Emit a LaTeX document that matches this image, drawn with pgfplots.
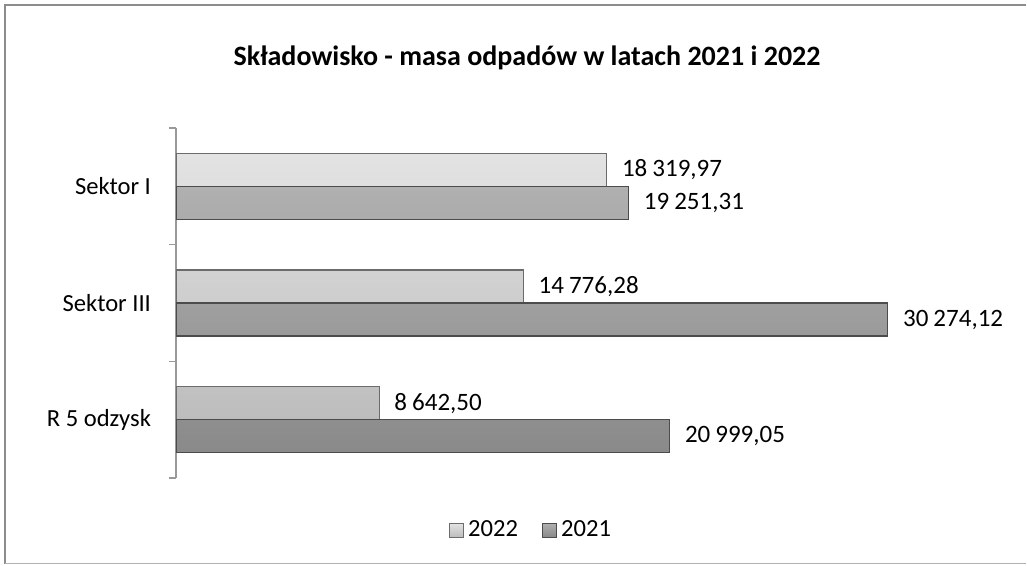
\documentclass[border=0pt]{standalone}
\usepackage{pgfplots}
\pgfplotsset{compat=1.18}
\usepackage{fontspec}
\setmainfont{Carlito}
\definecolor{frame}{gray}{0.55}
\definecolor{axisgray}{gray}{0.6}
\begin{document}
\begin{tikzpicture}
\path (0,0) rectangle (513.5pt,283pt);
\draw[frame, line width=0.8pt] (2.5pt,1.2pt) -- (2.5pt,280.5pt) -- (513pt,280.5pt);
\draw[gray!60, line width=0.5pt] (2.5pt,1.2pt) -- (513pt,1.2pt);
\node[font=\bfseries\fontsize{14}{16}\selectfont] at (263.5pt,254pt) {Składowisko - masa odpadów w latach 2021 i 2022};
\begin{axis}[
  at={(88pt,44pt)}, anchor=south west,
  scale only axis, width=411.5pt, height=175pt,
  xbar, xmin=0, xmax=35000,
  ymin=0.5, ymax=3.5,
  axis x line=none, axis y line*=left,
  y axis line style={axisgray, line width=0.6pt},
  ytick={1,2,3},
  yticklabels={R 5 odzysk, Sektor III, Sektor I},
  major tick length=0pt,
  yticklabel style={font=\fontsize{12.3}{14}\selectfont, xshift=-9pt},
  extra y ticks={0.5,1.5,2.5,3.5},
  extra y tick labels={},
  extra y tick style={major tick length=3.5pt, tick align=outside, tick style={axisgray, line width=0.6pt}},
  bar width=16.5pt,
  /pgf/number format/assume math mode=true,
  nodes near coords,
  nodes near coords align={horizontal},
  every node near coord/.append style={font=\fontsize{12.5}{14}\selectfont, text=black, xshift=4pt},
  /pgf/number format/.cd, fixed, fixed zerofill, precision=2, use comma, 1000 sep={\hspace{0.2em}},
  /pgfplots/.cd,
  legend style={at={(0.4326,-0.149)}, anchor=center, legend columns=2, draw=none, fill=none,
     font=\fontsize{12.3}{14}\selectfont, /tikz/every even column/.append style={column sep=10pt}},
  legend image code/.code={\path[#1] (0pt,-3.5pt) rectangle (7pt,3.5pt);},
]
\addplot[bar shift=8.25pt, top color=gray!22, bottom color=gray!52, draw=gray!85!black, line width=0.6pt]
  coordinates {(18319.97,3) (14776.28,2) (8642.50,1)};
\addlegendentry{2022}
\addplot[bar shift=-8.25pt, top color=gray!62, bottom color=gray!92, draw=black!70, line width=0.6pt]
  coordinates {(19251.31,3) (30274.12,2) (20999.05,1)};
\addlegendentry{2021}
\end{axis}
\end{tikzpicture}
\end{document}
